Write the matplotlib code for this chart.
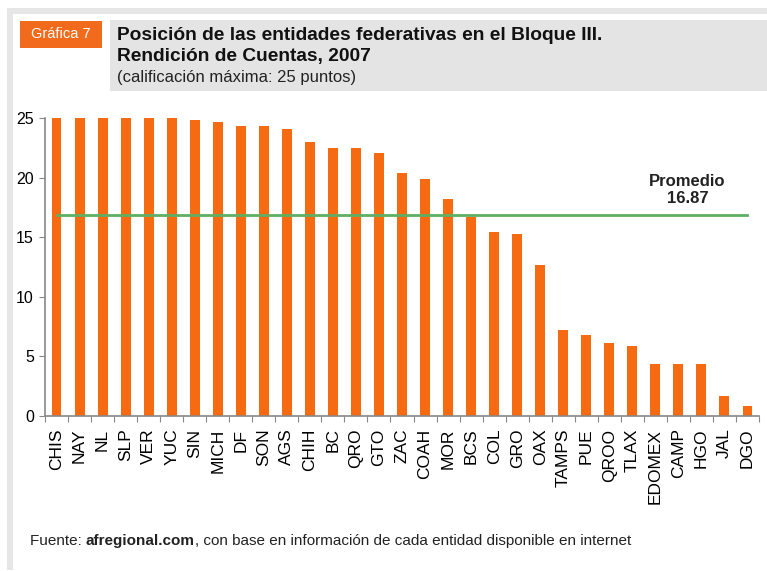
import matplotlib
matplotlib.use('Agg')
import matplotlib.pyplot as plt
from matplotlib.patches import Rectangle

# Datos: calificación por entidad (Bloque III, 2007)
entidades = ['CHIS', 'NAY', 'NL', 'SLP', 'VER', 'YUC', 'SIN', 'MICH', 'DF', 'SON',
             'AGS', 'CHIH', 'BC', 'QRO', 'GTO', 'ZAC', 'COAH', 'MOR', 'BCS', 'COL',
             'GRO', 'OAX', 'TAMPS', 'PUE', 'QROO', 'TLAX', 'EDOMEX', 'CAMP', 'HGO',
             'JAL', 'DGO']
calificacion = [25.0, 25.0, 25.0, 25.0, 25.0, 25.0, 24.8, 24.7, 24.3, 24.3,
                24.1, 23.0, 22.5, 22.5, 22.1, 20.4, 19.9, 18.2, 16.7, 15.4,
                15.3, 12.7, 7.2, 6.8, 6.1, 5.85, 4.4, 4.35, 4.4, 1.65, 0.8]
promedio = 16.87
yticks = [0, 5, 10, 15, 20, 25]

plt.rcParams['font.family'] = ['Liberation Sans', 'DejaVu Sans']

W, H = 767, 571
fig = plt.figure(figsize=(W / 100, H / 100), dpi=100)


def fx(px):
    return px / W


def fy(py):
    return 1 - py / H


# marco gris
fig.patches.append(Rectangle((fx(7), fy(14)), fx(W - 7), 6 / H, transform=fig.transFigure,
                             color='#e6e6e6', lw=0))
fig.patches.append(Rectangle((fx(7), fy(570)), 6 / W, (570 - 8) / H, transform=fig.transFigure,
                             color='#e6e6e6', lw=0))
# caja del título
fig.patches.append(Rectangle((fx(110), fy(91)), fx(W - 110), 71 / H, transform=fig.transFigure,
                             color='#e4e4e4', lw=0))
# etiqueta naranja
fig.patches.append(Rectangle((fx(20), fy(48)), 82 / W, 27 / H, transform=fig.transFigure,
                             color='#f26a1b', lw=0))
fig.text(fx(61), fy(34.5), 'Gráfica 7', color='white', fontsize=10.5, ha='center', va='center')

fig.text(fx(117), fy(36), 'Posición de las entidades federativas en el Bloque III.',
         fontsize=13.8, fontweight='bold', va='center', color='#111111')
fig.text(fx(117), fy(57), 'Rendición de Cuentas, 2007',
         fontsize=13.8, fontweight='bold', va='center', color='#111111')
fig.text(fx(117), fy(77), '(calificación máxima: 25 puntos)',
         fontsize=12, va='center', color='#222222')

ax = fig.add_axes([fx(45), fy(416), (759 - 45) / W, (416 - 118) / H])
x = range(len(entidades))
ax.bar(x, calificacion, width=0.43, color='#f66a12', zorder=2)
ax.plot([0, len(entidades) - 1], [promedio, promedio], color='#5fae62', lw=2, zorder=3)
ax.text(27.4, promedio + 0.75, 'Promedio\n%.2f' % promedio, ha='center', va='bottom',
        fontsize=12, fontweight='bold', linespacing=1.2, color='#222222')

ax.set_xlim(-0.5, len(entidades) - 0.5)
ax.set_ylim(0, 25)
ax.set_yticks(yticks)
ax.tick_params(axis='y', labelsize=11.5, length=4, color='#888888', pad=4)
ax.set_xticks([i + 0.5 for i in range(-1, len(entidades))])
ax.set_xticklabels([])
ax.set_xticks(list(x), minor=True)
ax.set_xticklabels(entidades, minor=True, rotation=90, fontsize=12.5)
ax.tick_params(axis='x', which='major', length=4, color='#888888')
ax.tick_params(axis='x', which='minor', length=0, pad=9)
for s in ['top', 'right']:
    ax.spines[s].set_visible(False)
for s in ['left', 'bottom']:
    ax.spines[s].set_color('#888888')
    ax.spines[s].set_linewidth(1.2)

t1 = fig.text(fx(30), fy(541), 'Fuente: ', fontsize=11, va='center', color='#222222')
t2 = fig.text(0, 0, 'afregional.com', fontsize=11, fontweight='bold', color='#222222')
t3 = fig.text(0, 0, ', con base en información de cada entidad disponible en internet',
              fontsize=11, color='#222222')
fig.canvas.draw()
r = fig.canvas.get_renderer()
bb1 = t1.get_window_extent(r)
t2.set_position((bb1.x1 / fig.bbox.width, fy(541)))
t2.set_va('center')
bb2 = t2.get_window_extent(r)
t3.set_position((bb2.x1 / fig.bbox.width, fy(541)))
t3.set_va('center')

fig.savefig('out.png', dpi=100)
